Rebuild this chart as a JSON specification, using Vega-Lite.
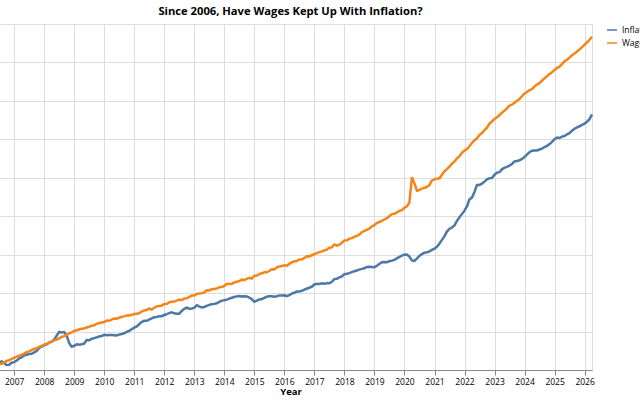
{
  "$schema": "https://vega.github.io/schema/vega-lite/v6.json",
  "title": {"text": "Since 2006, Have Wages Kept Up With Inflation?", "fontSize": 11.2, "fontWeight": "bold", "offset": 7},
  "width": 603,
  "height": 346,
  "padding": {"left": -16, "top": 5, "right": 5, "bottom": 5},
  "config": {
    "font": "Open Sans",
    "axis": {"labelFontSize": 8.5, "titleFontSize": 9.5},
    "axisX": {"titlePadding": 1},
    "legend": {"labelFontSize": 8.5, "offset": 9}
  },
  "data": {"values": [
    {"d":"2006-03-01","Inflation":20.04,"Wages":20.04},
    {"d":"2006-04-01","Inflation":20.14,"Wages":20.14},
    {"d":"2006-05-01","Inflation":20.20,"Wages":20.13},
    {"d":"2006-06-01","Inflation":20.25,"Wages":20.22},
    {"d":"2006-07-01","Inflation":20.36,"Wages":20.30},
    {"d":"2006-08-01","Inflation":20.45,"Wages":20.32},
    {"d":"2006-09-01","Inflation":20.35,"Wages":20.40},
    {"d":"2006-10-01","Inflation":20.26,"Wages":20.47},
    {"d":"2006-11-01","Inflation":20.27,"Wages":20.51},
    {"d":"2006-12-01","Inflation":20.38,"Wages":20.58},
    {"d":"2007-01-01","Inflation":20.41,"Wages":20.63},
    {"d":"2007-02-01","Inflation":20.49,"Wages":20.70},
    {"d":"2007-03-01","Inflation":20.60,"Wages":20.74},
    {"d":"2007-04-01","Inflation":20.66,"Wages":20.79},
    {"d":"2007-05-01","Inflation":20.75,"Wages":20.85},
    {"d":"2007-06-01","Inflation":20.79,"Wages":20.93},
    {"d":"2007-07-01","Inflation":20.83,"Wages":20.97},
    {"d":"2007-08-01","Inflation":20.84,"Wages":21.03},
    {"d":"2007-09-01","Inflation":20.92,"Wages":21.10},
    {"d":"2007-10-01","Inflation":20.99,"Wages":21.14},
    {"d":"2007-11-01","Inflation":21.15,"Wages":21.20},
    {"d":"2007-12-01","Inflation":21.21,"Wages":21.26},
    {"d":"2008-01-01","Inflation":21.29,"Wages":21.32},
    {"d":"2008-02-01","Inflation":21.33,"Wages":21.37},
    {"d":"2008-03-01","Inflation":21.42,"Wages":21.42},
    {"d":"2008-04-01","Inflation":21.48,"Wages":21.47},
    {"d":"2008-05-01","Inflation":21.58,"Wages":21.54},
    {"d":"2008-06-01","Inflation":21.78,"Wages":21.58},
    {"d":"2008-07-01","Inflation":21.98,"Wages":21.65},
    {"d":"2008-08-01","Inflation":21.95,"Wages":21.72},
    {"d":"2008-09-01","Inflation":21.97,"Wages":21.76},
    {"d":"2008-10-01","Inflation":21.79,"Wages":21.83},
    {"d":"2008-11-01","Inflation":21.39,"Wages":21.91},
    {"d":"2008-12-01","Inflation":21.21,"Wages":21.96},
    {"d":"2009-01-01","Inflation":21.26,"Wages":22.03},
    {"d":"2009-02-01","Inflation":21.34,"Wages":22.07},
    {"d":"2009-03-01","Inflation":21.32,"Wages":22.11},
    {"d":"2009-04-01","Inflation":21.34,"Wages":22.15},
    {"d":"2009-05-01","Inflation":21.37,"Wages":22.16},
    {"d":"2009-06-01","Inflation":21.56,"Wages":22.21},
    {"d":"2009-07-01","Inflation":21.55,"Wages":22.25},
    {"d":"2009-08-01","Inflation":21.62,"Wages":22.30},
    {"d":"2009-09-01","Inflation":21.66,"Wages":22.33},
    {"d":"2009-10-01","Inflation":21.70,"Wages":22.40},
    {"d":"2009-11-01","Inflation":21.74,"Wages":22.45},
    {"d":"2009-12-01","Inflation":21.77,"Wages":22.47},
    {"d":"2010-01-01","Inflation":21.83,"Wages":22.50},
    {"d":"2010-02-01","Inflation":21.81,"Wages":22.57},
    {"d":"2010-03-01","Inflation":21.82,"Wages":22.56},
    {"d":"2010-04-01","Inflation":21.82,"Wages":22.62},
    {"d":"2010-05-01","Inflation":21.81,"Wages":22.68},
    {"d":"2010-06-01","Inflation":21.80,"Wages":22.67},
    {"d":"2010-07-01","Inflation":21.84,"Wages":22.72},
    {"d":"2010-08-01","Inflation":21.87,"Wages":22.77},
    {"d":"2010-09-01","Inflation":21.91,"Wages":22.79},
    {"d":"2010-10-01","Inflation":21.98,"Wages":22.84},
    {"d":"2010-11-01","Inflation":22.04,"Wages":22.84},
    {"d":"2010-12-01","Inflation":22.12,"Wages":22.87},
    {"d":"2011-01-01","Inflation":22.20,"Wages":22.91},
    {"d":"2011-02-01","Inflation":22.27,"Wages":22.93},
    {"d":"2011-03-01","Inflation":22.38,"Wages":22.95},
    {"d":"2011-04-01","Inflation":22.49,"Wages":23.04},
    {"d":"2011-05-01","Inflation":22.56,"Wages":23.10},
    {"d":"2011-06-01","Inflation":22.56,"Wages":23.12},
    {"d":"2011-07-01","Inflation":22.62,"Wages":23.20},
    {"d":"2011-08-01","Inflation":22.69,"Wages":23.14},
    {"d":"2011-09-01","Inflation":22.74,"Wages":23.24},
    {"d":"2011-10-01","Inflation":22.76,"Wages":23.31},
    {"d":"2011-11-01","Inflation":22.80,"Wages":23.33},
    {"d":"2011-12-01","Inflation":22.80,"Wages":23.35},
    {"d":"2012-01-01","Inflation":22.86,"Wages":23.43},
    {"d":"2012-02-01","Inflation":22.91,"Wages":23.44},
    {"d":"2012-03-01","Inflation":22.96,"Wages":23.52},
    {"d":"2012-04-01","Inflation":23.00,"Wages":23.55},
    {"d":"2012-05-01","Inflation":22.95,"Wages":23.56},
    {"d":"2012-06-01","Inflation":22.93,"Wages":23.61},
    {"d":"2012-07-01","Inflation":22.93,"Wages":23.66},
    {"d":"2012-08-01","Inflation":23.07,"Wages":23.63},
    {"d":"2012-09-01","Inflation":23.18,"Wages":23.72},
    {"d":"2012-10-01","Inflation":23.24,"Wages":23.73},
    {"d":"2012-11-01","Inflation":23.19,"Wages":23.80},
    {"d":"2012-12-01","Inflation":23.20,"Wages":23.87},
    {"d":"2013-01-01","Inflation":23.24,"Wages":23.87},
    {"d":"2013-02-01","Inflation":23.37,"Wages":23.96},
    {"d":"2013-03-01","Inflation":23.31,"Wages":23.98},
    {"d":"2013-04-01","Inflation":23.25,"Wages":24.00},
    {"d":"2013-05-01","Inflation":23.28,"Wages":24.03},
    {"d":"2013-06-01","Inflation":23.34,"Wages":24.15},
    {"d":"2013-07-01","Inflation":23.39,"Wages":24.14},
    {"d":"2013-08-01","Inflation":23.42,"Wages":24.20},
    {"d":"2013-09-01","Inflation":23.44,"Wages":24.22},
    {"d":"2013-10-01","Inflation":23.47,"Wages":24.24},
    {"d":"2013-11-01","Inflation":23.54,"Wages":24.31},
    {"d":"2013-12-01","Inflation":23.61,"Wages":24.32},
    {"d":"2014-01-01","Inflation":23.63,"Wages":24.38},
    {"d":"2014-02-01","Inflation":23.66,"Wages":24.49},
    {"d":"2014-03-01","Inflation":23.71,"Wages":24.48},
    {"d":"2014-04-01","Inflation":23.76,"Wages":24.49},
    {"d":"2014-05-01","Inflation":23.80,"Wages":24.55},
    {"d":"2014-06-01","Inflation":23.83,"Wages":24.59},
    {"d":"2014-07-01","Inflation":23.85,"Wages":24.63},
    {"d":"2014-08-01","Inflation":23.82,"Wages":24.70},
    {"d":"2014-09-01","Inflation":23.84,"Wages":24.68},
    {"d":"2014-10-01","Inflation":23.83,"Wages":24.74},
    {"d":"2014-11-01","Inflation":23.77,"Wages":24.80},
    {"d":"2014-12-01","Inflation":23.68,"Wages":24.76},
    {"d":"2015-01-01","Inflation":23.55,"Wages":24.90},
    {"d":"2015-02-01","Inflation":23.61,"Wages":24.91},
    {"d":"2015-03-01","Inflation":23.67,"Wages":24.99},
    {"d":"2015-04-01","Inflation":23.69,"Wages":25.03},
    {"d":"2015-05-01","Inflation":23.75,"Wages":25.08},
    {"d":"2015-06-01","Inflation":23.81,"Wages":25.08},
    {"d":"2015-07-01","Inflation":23.84,"Wages":25.15},
    {"d":"2015-08-01","Inflation":23.84,"Wages":25.24},
    {"d":"2015-09-01","Inflation":23.81,"Wages":25.23},
    {"d":"2015-10-01","Inflation":23.84,"Wages":25.34},
    {"d":"2015-11-01","Inflation":23.88,"Wages":25.39},
    {"d":"2015-12-01","Inflation":23.88,"Wages":25.41},
    {"d":"2016-01-01","Inflation":23.89,"Wages":25.45},
    {"d":"2016-02-01","Inflation":23.84,"Wages":25.43},
    {"d":"2016-03-01","Inflation":23.89,"Wages":25.52},
    {"d":"2016-04-01","Inflation":23.97,"Wages":25.61},
    {"d":"2016-05-01","Inflation":24.02,"Wages":25.64},
    {"d":"2016-06-01","Inflation":24.08,"Wages":25.67},
    {"d":"2016-07-01","Inflation":24.08,"Wages":25.75},
    {"d":"2016-08-01","Inflation":24.12,"Wages":25.76},
    {"d":"2016-09-01","Inflation":24.18,"Wages":25.83},
    {"d":"2016-10-01","Inflation":24.24,"Wages":25.92},
    {"d":"2016-11-01","Inflation":24.28,"Wages":25.91},
    {"d":"2016-12-01","Inflation":24.34,"Wages":25.97},
    {"d":"2017-01-01","Inflation":24.45,"Wages":26.03},
    {"d":"2017-02-01","Inflation":24.48,"Wages":26.08},
    {"d":"2017-03-01","Inflation":24.47,"Wages":26.13},
    {"d":"2017-04-01","Inflation":24.51,"Wages":26.17},
    {"d":"2017-05-01","Inflation":24.49,"Wages":26.22},
    {"d":"2017-06-01","Inflation":24.51,"Wages":26.26},
    {"d":"2017-07-01","Inflation":24.51,"Wages":26.36},
    {"d":"2017-08-01","Inflation":24.59,"Wages":26.38},
    {"d":"2017-09-01","Inflation":24.73,"Wages":26.53},
    {"d":"2017-10-01","Inflation":24.75,"Wages":26.47},
    {"d":"2017-11-01","Inflation":24.82,"Wages":26.52},
    {"d":"2017-12-01","Inflation":24.87,"Wages":26.62},
    {"d":"2018-01-01","Inflation":24.98,"Wages":26.74},
    {"d":"2018-02-01","Inflation":25.01,"Wages":26.75},
    {"d":"2018-03-01","Inflation":25.04,"Wages":26.83},
    {"d":"2018-04-01","Inflation":25.09,"Wages":26.86},
    {"d":"2018-05-01","Inflation":25.14,"Wages":26.93},
    {"d":"2018-06-01","Inflation":25.18,"Wages":26.98},
    {"d":"2018-07-01","Inflation":25.22,"Wages":27.04},
    {"d":"2018-08-01","Inflation":25.26,"Wages":27.17},
    {"d":"2018-09-01","Inflation":25.29,"Wages":27.24},
    {"d":"2018-10-01","Inflation":25.36,"Wages":27.29},
    {"d":"2018-11-01","Inflation":25.37,"Wages":27.36},
    {"d":"2018-12-01","Inflation":25.36,"Wages":27.47},
    {"d":"2019-01-01","Inflation":25.35,"Wages":27.53},
    {"d":"2019-02-01","Inflation":25.42,"Wages":27.66},
    {"d":"2019-03-01","Inflation":25.52,"Wages":27.70},
    {"d":"2019-04-01","Inflation":25.61,"Wages":27.76},
    {"d":"2019-05-01","Inflation":25.62,"Wages":27.83},
    {"d":"2019-06-01","Inflation":25.61,"Wages":27.90},
    {"d":"2019-07-01","Inflation":25.66,"Wages":28.00},
    {"d":"2019-08-01","Inflation":25.69,"Wages":28.11},
    {"d":"2019-09-01","Inflation":25.73,"Wages":28.13},
    {"d":"2019-10-01","Inflation":25.81,"Wages":28.20},
    {"d":"2019-11-01","Inflation":25.88,"Wages":28.28},
    {"d":"2019-12-01","Inflation":25.95,"Wages":28.32},
    {"d":"2020-01-01","Inflation":26.00,"Wages":28.44},
    {"d":"2020-02-01","Inflation":26.01,"Wages":28.52},
    {"d":"2020-03-01","Inflation":25.90,"Wages":28.70},
    {"d":"2020-04-01","Inflation":25.70,"Wages":30.03},
    {"d":"2020-05-01","Inflation":25.68,"Wages":29.72},
    {"d":"2020-06-01","Inflation":25.79,"Wages":29.33},
    {"d":"2020-07-01","Inflation":25.93,"Wages":29.36},
    {"d":"2020-08-01","Inflation":26.03,"Wages":29.44},
    {"d":"2020-09-01","Inflation":26.10,"Wages":29.48},
    {"d":"2020-10-01","Inflation":26.13,"Wages":29.52},
    {"d":"2020-11-01","Inflation":26.17,"Wages":29.63},
    {"d":"2020-12-01","Inflation":26.25,"Wages":29.86},
    {"d":"2021-01-01","Inflation":26.31,"Wages":29.92},
    {"d":"2021-02-01","Inflation":26.42,"Wages":29.96},
    {"d":"2021-03-01","Inflation":26.57,"Wages":29.96},
    {"d":"2021-04-01","Inflation":26.77,"Wages":30.16},
    {"d":"2021-05-01","Inflation":26.95,"Wages":30.33},
    {"d":"2021-06-01","Inflation":27.20,"Wages":30.45},
    {"d":"2021-07-01","Inflation":27.34,"Wages":30.58},
    {"d":"2021-08-01","Inflation":27.41,"Wages":30.73},
    {"d":"2021-09-01","Inflation":27.52,"Wages":30.85},
    {"d":"2021-10-01","Inflation":27.76,"Wages":31.01},
    {"d":"2021-11-01","Inflation":27.95,"Wages":31.12},
    {"d":"2021-12-01","Inflation":28.11,"Wages":31.30},
    {"d":"2022-01-01","Inflation":28.29,"Wages":31.42},
    {"d":"2022-02-01","Inflation":28.52,"Wages":31.50},
    {"d":"2022-03-01","Inflation":28.87,"Wages":31.64},
    {"d":"2022-04-01","Inflation":28.97,"Wages":31.81},
    {"d":"2022-05-01","Inflation":29.25,"Wages":31.94},
    {"d":"2022-06-01","Inflation":29.63,"Wages":32.06},
    {"d":"2022-07-01","Inflation":29.63,"Wages":32.22},
    {"d":"2022-08-01","Inflation":29.69,"Wages":32.33},
    {"d":"2022-09-01","Inflation":29.80,"Wages":32.48},
    {"d":"2022-10-01","Inflation":29.92,"Wages":32.61},
    {"d":"2022-11-01","Inflation":29.98,"Wages":32.82},
    {"d":"2022-12-01","Inflation":29.99,"Wages":32.93},
    {"d":"2023-01-01","Inflation":30.16,"Wages":33.06},
    {"d":"2023-02-01","Inflation":30.27,"Wages":33.15},
    {"d":"2023-03-01","Inflation":30.29,"Wages":33.25},
    {"d":"2023-04-01","Inflation":30.44,"Wages":33.39},
    {"d":"2023-05-01","Inflation":30.52,"Wages":33.48},
    {"d":"2023-06-01","Inflation":30.57,"Wages":33.61},
    {"d":"2023-07-01","Inflation":30.63,"Wages":33.75},
    {"d":"2023-08-01","Inflation":30.72,"Wages":33.81},
    {"d":"2023-09-01","Inflation":30.85,"Wages":33.90},
    {"d":"2023-10-01","Inflation":30.87,"Wages":34.00},
    {"d":"2023-11-01","Inflation":30.91,"Wages":34.10},
    {"d":"2023-12-01","Inflation":30.98,"Wages":34.24},
    {"d":"2024-01-01","Inflation":31.08,"Wages":34.39},
    {"d":"2024-02-01","Inflation":31.22,"Wages":34.46},
    {"d":"2024-03-01","Inflation":31.33,"Wages":34.56},
    {"d":"2024-04-01","Inflation":31.41,"Wages":34.61},
    {"d":"2024-05-01","Inflation":31.42,"Wages":34.75},
    {"d":"2024-06-01","Inflation":31.42,"Wages":34.85},
    {"d":"2024-07-01","Inflation":31.47,"Wages":34.92},
    {"d":"2024-08-01","Inflation":31.52,"Wages":35.05},
    {"d":"2024-09-01","Inflation":31.60,"Wages":35.18},
    {"d":"2024-10-01","Inflation":31.66,"Wages":35.29},
    {"d":"2024-11-01","Inflation":31.75,"Wages":35.40},
    {"d":"2024-12-01","Inflation":31.87,"Wages":35.49},
    {"d":"2025-01-01","Inflation":32.02,"Wages":35.61},
    {"d":"2025-02-01","Inflation":32.09,"Wages":35.72},
    {"d":"2025-03-01","Inflation":32.07,"Wages":35.78},
    {"d":"2025-04-01","Inflation":32.14,"Wages":35.91},
    {"d":"2025-05-01","Inflation":32.17,"Wages":36.06},
    {"d":"2025-06-01","Inflation":32.26,"Wages":36.14},
    {"d":"2025-07-01","Inflation":32.32,"Wages":36.25},
    {"d":"2025-08-01","Inflation":32.45,"Wages":36.37},
    {"d":"2025-09-01","Inflation":32.55,"Wages":36.46},
    {"d":"2025-10-01","Inflation":32.62,"Wages":36.57},
    {"d":"2025-11-01","Inflation":32.68,"Wages":36.68},
    {"d":"2025-12-01","Inflation":32.75,"Wages":36.80},
    {"d":"2026-01-01","Inflation":32.82,"Wages":36.93},
    {"d":"2026-02-01","Inflation":32.92,"Wages":37.05},
    {"d":"2026-03-01","Inflation":33.05,"Wages":37.18},
    {"d":"2026-04-01","Inflation":33.30,"Wages":37.34}
  ]},
  "transform": [{"fold": ["Inflation", "Wages"], "as": ["series", "value"]}],
  "mark": {"type": "line", "strokeWidth": 2.5},
  "encoding": {
    "x": {
      "field": "d", "type": "temporal", "title": "Year",
      "axis": {"format": "%Y", "tickCount": {"interval": "year", "step": 1}, "labelAngle": 0, "labelOverlap": false}
    },
    "y": {
      "field": "value", "type": "quantitative",
      "scale": {"domain": [20, 38], "zero": false},
      "axis": {"values": [20, 22, 24, 26, 28, 30, 32, 34, 36, 38], "labels": false, "ticks": false, "domain": false, "title": null}
    },
    "color": {"field": "series", "type": "nominal", "legend": {"title": null}}
  }
}
